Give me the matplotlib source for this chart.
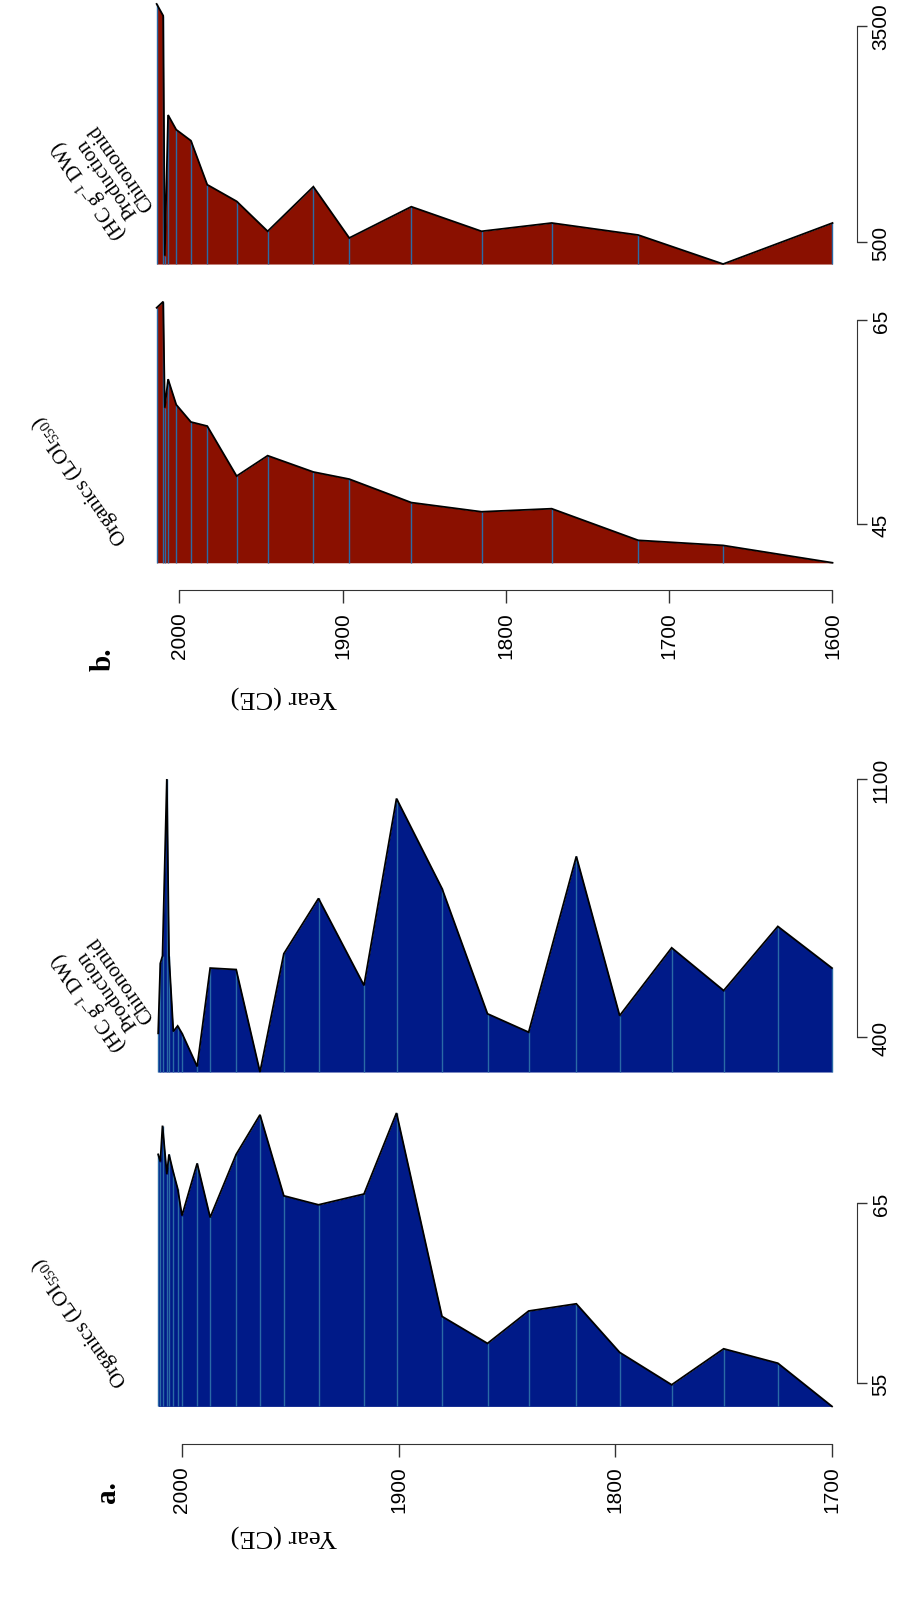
import matplotlib
matplotlib.use("Agg")
import matplotlib.pyplot as plt

plt.rcParams['font.family'] = ['Liberation Sans', 'DejaVu Sans']
plt.rcParams['mathtext.fontset'] = 'custom'
plt.rcParams['mathtext.rm'] = 'Liberation Serif'
plt.rcParams['mathtext.it'] = 'Liberation Serif:italic'

W, H = 898, 1606

# ---- panel a (blue) ----
years_a = [2011, 2010, 2009, 2007, 2006, 2004, 2002, 2000, 1993, 1987, 1975, 1964, 1953,
           1937, 1916, 1901, 1880, 1859, 1840, 1818, 1798, 1774, 1750, 1725, 1700]
organics_a = [67.7, 67.3, 69.3, 66.6, 67.7, 66.7, 65.8, 64.3, 67.2, 64.2, 67.7, 69.9, 65.4,
              64.9, 65.5, 70.0, 58.7, 57.2, 59.0, 59.4, 56.7, 54.9, 56.9, 56.1, 53.7]
chiro_a = [410, 600, 620, 1100, 620, 415, 430, 410, 320, 587, 583, 305, 626,
           776, 540, 1047, 803, 463, 413, 890, 458, 642, 526, 700, 587]

# ---- panel b (red) ----
years_b = [2014, 2010, 2009, 2007, 2002, 1993, 1983, 1965, 1946, 1918, 1896, 1858,
           1815, 1772, 1719, 1667, 1600]
organics_b = [66.2, 66.8, 56.4, 59.2, 56.7, 55.0, 54.6, 49.7, 51.7, 50.1, 49.4, 47.1,
              46.2, 46.5, 43.4, 42.9, 41.2]
chiro_b = [3806, 3643, 310, 2264, 2060, 1907, 1296, 1065, 649, 1268, 556, 990,
           649, 764, 597, 194, 764]

yticks_a = [2000, 1900, 1800, 1700]
yticks_b = [2000, 1900, 1800, 1700, 1600]

BLUE = '#001a88'
RED = '#8a1000'
SAMPLE = '#2a6aa6'

fig = plt.figure(figsize=(W / 100, H / 100), dpi=100)


def add_panel(years, vals, yr_px, val_px, color, ticks, spine_x=857,
              year_ticks=None, year_axis_y=None):
    (y1, p1), (y2, p2) = yr_px
    sx = (p2 - p1) / (y2 - y1)
    x0 = p1 + (max(years) - y1) * sx
    x1 = p1 + (min(years) - y1) * sx
    (v1, q1), (v2, q2) = val_px
    sy = (q2 - q1) / (v2 - v1)
    top = q1 + (max(vals) - v1) * sy
    bot = q1 + (min(vals) - v1) * sy
    ax = fig.add_axes([x0 / W, 1 - bot / H, (x1 - x0) / W, (bot - top) / H])
    ax.set_xlim(max(years), min(years))
    ax.set_ylim(min(vals), max(vals))
    ax.patch.set_visible(False)

    lo = min(vals)
    ax.fill_between(years, vals, lo, color=color, lw=0, clip_on=False)
    ax.vlines(years, lo, vals, color=SAMPLE, lw=1.0, clip_on=False)
    ax.plot(years, vals, color='black', lw=1.3, clip_on=False,
            solid_joinstyle='miter')

    ax.spines['top'].set_visible(False)
    ax.spines['left'].set_visible(False)
    # value axis on the right
    ax.yaxis.tick_right()
    ax.spines['right'].set_position(('outward', (spine_x - x1) * 0.72))
    ax.spines['right'].set_bounds(ticks[0], ticks[1])
    ax.spines['right'].set_color('#333333')
    ax.set_yticks(ticks)
    ax.set_yticklabels([str(t) for t in ticks])
    ax.tick_params(axis='y', direction='out', length=7.5, width=1.0,
                   colors='#333333', labelcolor='black', labelsize=15, pad=3,
                   labelrotation=90)
    for lbl in ax.get_yticklabels():
        lbl.set_va('center')
        lbl.set_ha('left')

    if year_ticks is None:
        ax.spines['bottom'].set_visible(False)
        ax.set_xticks([])
    else:
        ax.spines['bottom'].set_position(('outward', (year_axis_y - bot) * 0.72))
        ax.spines['bottom'].set_bounds(min(year_ticks), max(year_ticks))
        ax.spines['bottom'].set_color('#333333')
        ax.set_xticks(year_ticks)
        ax.set_xticklabels([str(t) for t in year_ticks])
        ax.tick_params(axis='x', direction='out', length=9, width=1.0,
                       colors='#333333', labelcolor='black', labelsize=15, pad=6,
                       labelrotation=90)
        for lbl in ax.get_xticklabels():
            lbl.set_ha('center')
            lbl.set_va('top')
    return ax


# panel b
add_panel(years_b, chiro_b, ((2000, 179.5), (1600, 832.5)), ((500, 243), (3500, 27)),
          RED, [500, 3500])
add_panel(years_b, organics_b, ((2000, 179.5), (1600, 832.5)), ((45, 525), (65, 321)),
          RED, [45, 65], year_ticks=yticks_b, year_axis_y=591)

# panel a
add_panel(years_a, chiro_a, ((2000, 182), (1700, 832)), ((400, 1038), (1100, 780)),
          BLUE, [400, 1100])
add_panel(years_a, organics_a, ((2000, 182), (1700, 832)), ((55, 1384), (65, 1204)),
          BLUE, [55, 65], year_ticks=yticks_a, year_axis_y=1445)


def ftext(x, y, s, **kw):
    fig.text(x / W, 1 - y / H, s, ha='center', va='center', rotation_mode='anchor', **kw)


serif = ['Liberation Serif', 'DejaVu Serif']
ftext(107, 1492, 'a.', rotation=90, fontsize=21, fontweight='bold', family=serif)
ftext(103, 659, 'b.', rotation=90, fontsize=21, fontweight='bold', family=serif)
ftext(284, 1536, 'Year (CE)', rotation=180, fontsize=19, family=serif)
ftext(284, 697, 'Year (CE)', rotation=180, fontsize=19, family=serif)

ftext(80, 1322, 'Organics (LOI$_{550}$)', rotation=125, fontsize=15, family=serif)
ftext(80, 480, 'Organics (LOI$_{550}$)', rotation=125, fontsize=15, family=serif)
# line stack as it appears in the picture: units line outermost, name next to the plot
chiro_lbl = '(HC g$^{-1}$ DW)\nProduction\nChironomid'
ftext(104, 992, chiro_lbl, rotation=125, fontsize=15, family=serif, linespacing=0.95)
ftext(104, 180, chiro_lbl, rotation=125, fontsize=15, family=serif, linespacing=0.95)

fig.savefig('out.png', dpi=100)
